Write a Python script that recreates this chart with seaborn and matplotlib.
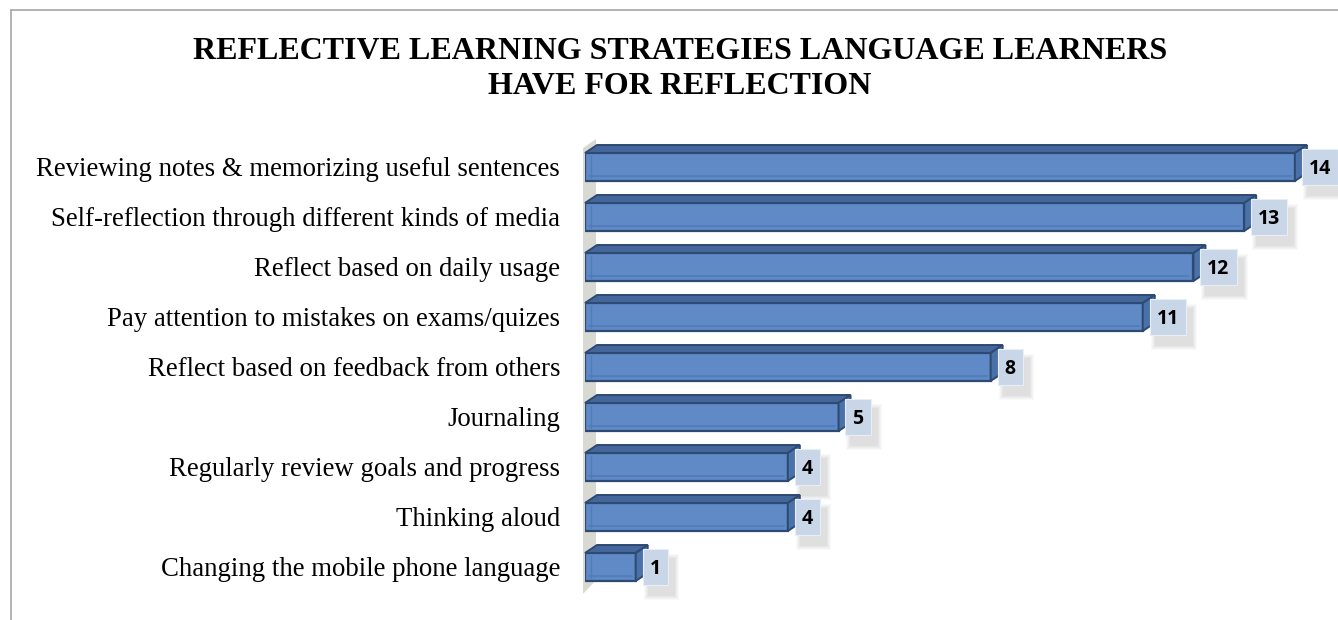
import matplotlib
matplotlib.use("Agg")
import matplotlib.pyplot as plt
import seaborn as sns
import pandas as pd
from matplotlib.patches import Polygon, Rectangle
from matplotlib.lines import Line2D
from matplotlib.transforms import IdentityTransform

categories = [
    "Reviewing notes & memorizing useful sentences",
    "Self-reflection through different kinds of media",
    "Reflect based on daily usage",
    "Pay attention to mistakes on exams/quizes",
    "Reflect based on feedback from others",
    "Journaling",
    "Regularly review goals and progress",
    "Thinking aloud",
    "Changing the mobile phone language",
]
counts = [14, 13, 12, 11, 8, 5, 4, 4, 1]
title = "REFLECTIVE LEARNING STRATEGIES LANGUAGE LEARNERS\nHAVE FOR REFLECTION"

df = pd.DataFrame({"strategy": categories, "count": counts})

sns.set_theme(style="white")
W, H = 1338, 620
fig = plt.figure(figsize=(W / 100, H / 100), dpi=100)
ax = fig.add_axes([585 / W, 1 - 592 / H, (1338 - 585) / W, 450 / H])

bar_h = 0.56
sns.barplot(data=df, y="strategy", x="count", orient="h", color="#5f8ac6",
            saturation=1, width=bar_h, edgecolor="#2d4a73", linewidth=1.6, ax=ax)
ax.set_xlim(0, 14.85)
ax.set_ylim(len(categories) - 0.5, -0.5)

# pixel -> data scale
p0 = ax.transData.transform((0, 0))
p1 = ax.transData.transform((1, 1))
px_x = 1 / abs(p1[0] - p0[0])
px_y = 1 / abs(p1[1] - p0[1])
dx, dy = 12 * px_x, 8 * px_y

# back wall
wall = Polygon([(-2 * px_x, len(categories) - 0.5 + 2 * px_y), (-2 * px_x, -0.5 + 6 * px_y),
                (11 * px_x, -0.5 - 3 * px_y), (11 * px_x, len(categories) - 0.5 - 12 * px_y)],
               closed=True, fc="#d9d9d3", ec="none", zorder=0.5, clip_on=False)
ax.add_patch(wall)

for patch in ax.patches[:]:
    if not isinstance(patch, Rectangle):
        continue
    x0, yb = patch.get_x(), patch.get_y()
    w, h = patch.get_width(), patch.get_height()
    ytop = yb  # screen-top since axis inverted
    ybot = yb + h
    patch.set_zorder(3)
    top = Polygon([(x0, ytop), (x0 + w, ytop), (x0 + w + dx, ytop - dy), (x0 + dx, ytop - dy)],
                  closed=True, fc="#44669a", ec="#2d4a73", lw=1.4, zorder=3, clip_on=False)
    side = Polygon([(x0 + w, ytop), (x0 + w + dx, ytop - dy), (x0 + w + dx, ybot - dy), (x0 + w, ybot)],
                   closed=True, fc="#4a71a8", ec="#2d4a73", lw=1.4, zorder=3, clip_on=False)
    ax.add_patch(top)
    ax.add_patch(side)
    # inner bevel lines
    ax.add_line(Line2D([x0 + 4 * px_x, x0 + w - 4 * px_x], [ybot - 5 * px_y, ybot - 5 * px_y],
                       color="#4f7bb8", lw=1.2, zorder=3.5))
    ax.add_line(Line2D([x0 + 6 * px_x, x0 + 6 * px_x], [ytop + 3 * px_y, ybot - 3 * px_y],
                       color="#4f7bb8", lw=1.0, zorder=3.5))

value_texts = []
for i, v in enumerate(counts):
    t = ax.annotate(str(v), xy=(v, i), xytext=(10, -5), textcoords="offset points",
                    va="baseline", ha="left", fontsize=14, fontweight="bold",
                    family=["Open Sans", "DejaVu Sans"], color="black", zorder=6,
                    annotation_clip=False)
    value_texts.append(t)

ax.set_xlabel("")
ax.set_ylabel("")
ax.set_xticks([])
for s in ax.spines.values():
    s.set_visible(False)
ax.tick_params(axis="y", length=0, pad=18)
for lab in ax.get_yticklabels():
    lab.set_family(["Liberation Serif", "DejaVu Serif"])
    lab.set_fontsize(19.3)
    lab.set_color("black")

fig.text(680 / W, 1 - 69 / H, title, ha="center", va="center", fontsize=23,
         fontweight="bold", family=["Liberation Serif", "DejaVu Serif"], linespacing=1.3,
         color="black")

fig.add_artist(Line2D([11 / W, 11 / W], [0, 1 - 10 / H], color="#a6a6a6", lw=1.2,
                      transform=fig.transFigure))
fig.add_artist(Line2D([11 / W, 1], [1 - 10 / H, 1 - 10 / H], color="#a6a6a6", lw=1.2,
                      transform=fig.transFigure))

# label boxes and soft shadows, sized from the rendered value texts
fig.canvas.draw()
renderer = fig.canvas.get_renderer()
for i, t in enumerate(value_texts):
    bb = t.get_window_extent(renderer)
    cy = ax.transData.transform((0, i))[1]
    bx0, bx1 = bb.x0 - 7, bb.x1 + 7
    by0, by1 = cy - 18, cy + 18
    for k, a in enumerate([0.03, 0.03, 0.035, 0.04, 0.045]):
        g = 5 - k
        ax.add_patch(Rectangle((bx0 + 6 - g, by0 - 10 - g), (bx1 - bx0) + 2 * g, (by1 - by0) + 2 * g,
                               transform=IdentityTransform(), fc=(0.3, 0.3, 0.3, a), ec="none",
                               zorder=4, clip_on=False))
    ax.add_patch(Rectangle((bx0, by0), bx1 - bx0, by1 - by0, transform=IdentityTransform(),
                           fc="#c9d6e8", ec="#e8eef6", lw=0.8, zorder=5, clip_on=False))

fig.savefig("out.png", dpi=100)
